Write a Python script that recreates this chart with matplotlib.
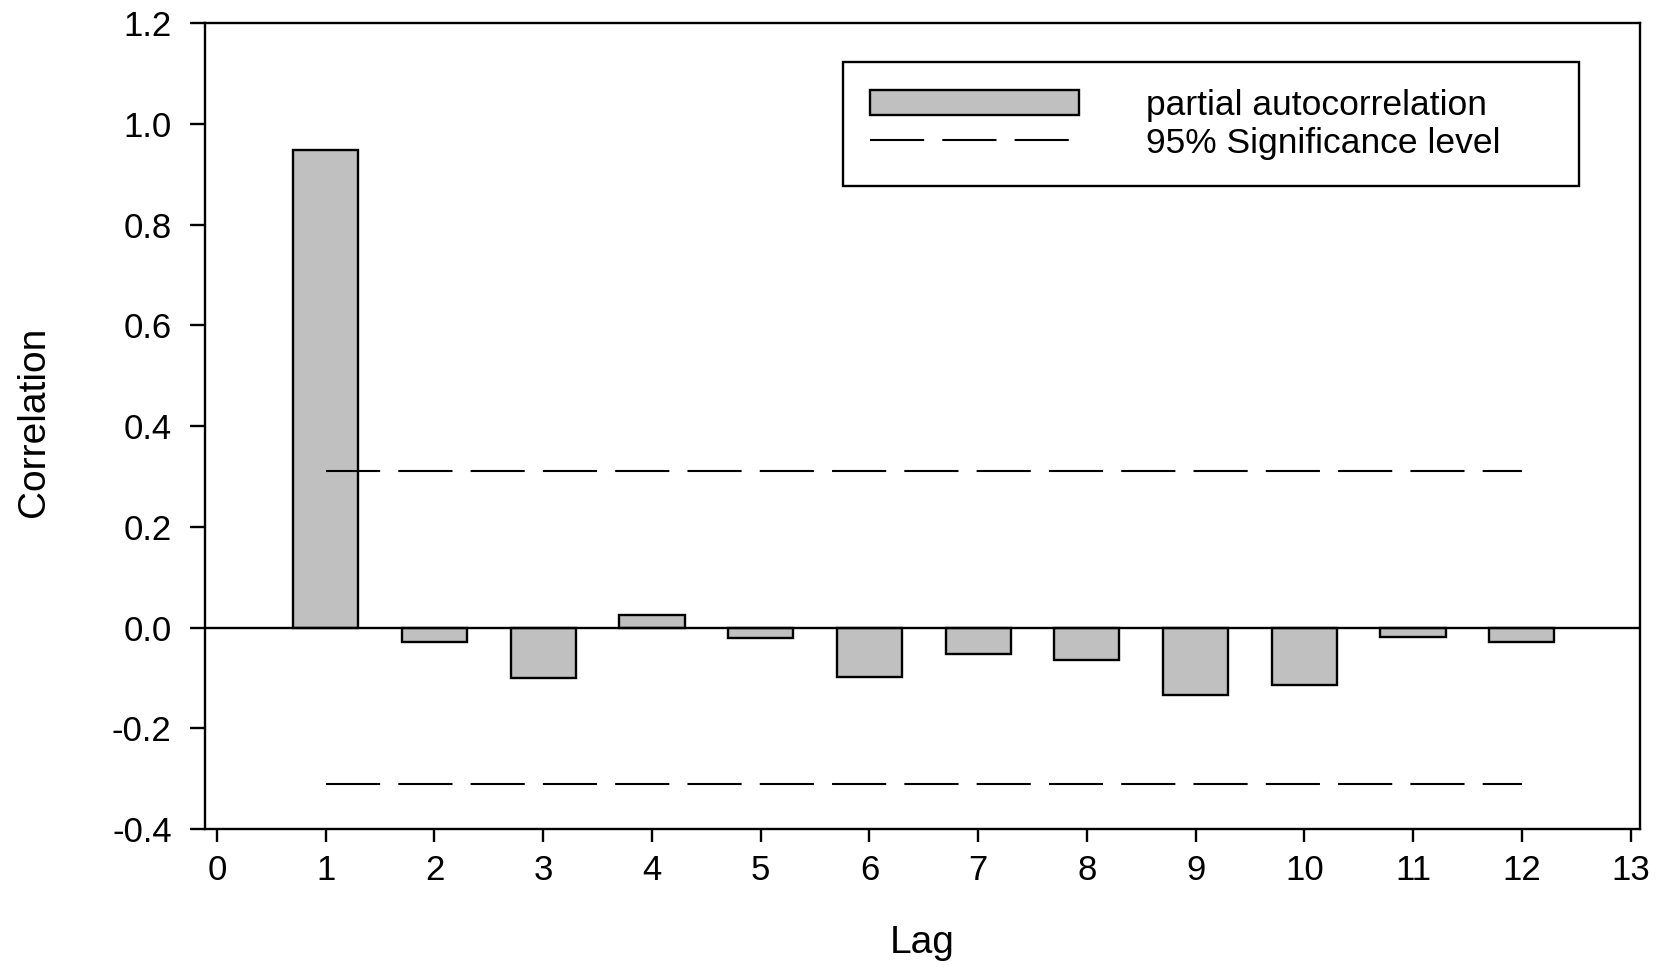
import numpy as np
import matplotlib
matplotlib.use('Agg')
import matplotlib.pyplot as plt

plt.rcParams['font.family'] = ['Liberation Sans', 'DejaVu Sans']
plt.rcParams['axes.unicode_minus'] = False

# partial autocorrelation by lag
lags = [1, 2, 3, 4, 5, 6, 7, 8, 9, 10, 11, 12]
pacf = [0.947, -0.029, -0.100, 0.025, -0.020, -0.099, -0.053, -0.064, -0.134, -0.115, -0.019, -0.029]
sig_level = 0.31
x_ticks = list(range(0, 14))
y_ticks = [-0.4, -0.2, 0.0, 0.2, 0.4, 0.6, 0.8, 1.0, 1.2]

fig = plt.figure(figsize=(16.67, 9.67), dpi=100)
ax = fig.add_axes([0.123, 0.1427, 0.861, 0.8335])

lw = 1.7
bars = ax.bar(lags, pacf, width=0.6, color='#c0c0c0', edgecolor='black', linewidth=lw,
              zorder=2)
ax.axhline(0, color='black', linewidth=lw, zorder=3)
sig, = ax.plot([lags[0], lags[-1]], [sig_level, sig_level], color='black', linewidth=1.5,
               dashes=(26, 8.7), zorder=4)
ax.plot([lags[0], lags[-1]], [-sig_level, -sig_level], color='black', linewidth=1.5,
        dashes=(26, 8.7), zorder=4)

ax.set_xlim(-0.11, 13.09)
ax.set_ylim(-0.4, 1.2)
ax.set_xticks(x_ticks)
ax.set_yticks(y_ticks)
ax.set_yticklabels(['%.1f' % v for v in y_ticks])
ax.tick_params(axis='y', direction='out', length=11, width=lw, labelsize=25, pad=13)
ax.tick_params(axis='x', direction='out', length=9, width=lw, labelsize=25, pad=9)
for s in ax.spines.values():
    s.set_linewidth(lw)

ax.set_xlabel('Lag', fontsize=28)
ax.set_ylabel('Correlation', fontsize=28)
ax.xaxis.set_label_coords(0.5, -0.141)
ax.xaxis.label.set_verticalalignment('center')
ax.yaxis.set_label_coords(-0.119, 0.505)
ax.yaxis.label.set_verticalalignment('center')

x0, y0 = 843 / 1667, 1 - 62 / 967
w = (1579 - 843) / 1667
leg = ax.legend([bars, sig], ['partial autocorrelation', '95% Significance level'],
                loc='upper left', bbox_to_anchor=(x0, y0 - 0.2, w, 0.2),
                bbox_transform=fig.transFigure, mode='expand', borderaxespad=0,
                fontsize=25.5, handlelength=5.9, handleheight=0.7, handletextpad=1.9,
                borderpad=0.75, labelspacing=0.15, fancybox=False, framealpha=1,
                edgecolor='black')
leg.get_frame().set_linewidth(lw)

plt.savefig('out.png', dpi=100)
